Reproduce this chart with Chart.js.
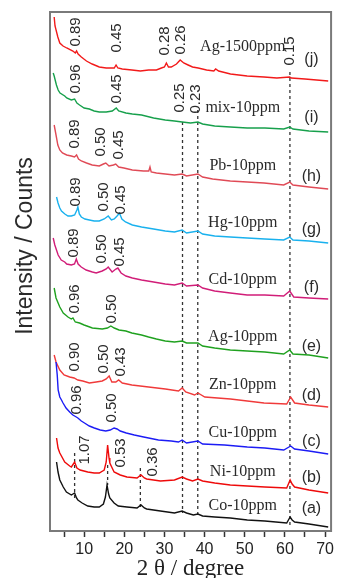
<!DOCTYPE html>
<html>
<head>
<meta charset="utf-8">
<script src="https://cdn.jsdelivr.net/npm/chart.js@4.4.1/dist/chart.umd.min.js"></script>
<style>
  html, body { margin: 0; padding: 0; background: #fff; overflow: hidden; }
  canvas { display: block; }
</style>
</head>
<body>
<canvas id="xrd" width="337" height="578"></canvas>
<script>
// XRD patterns, [2theta (deg), stacked intensity (a.u.)]
const coCurve = [[3.13,69],[3.5,59],[3.94,51],[4.8,44],[5.59,39],[6.82,36],[7.63,38],[8.1,33],[8.44,31],[9.5,28],[10.9,25],[12.5,24],[13.77,24],[14.8,27],[15.3,34],[15.7,46],[16.1,37],[16.4,33],[17.46,28],[18.5,25],[20.65,24],[23.18,23],[24.16,26],[25.0,23],[25.57,22],[29.0,20],[32.5,18],[34.41,20],[35.5,18],[37.2,16],[38.34,17],[39.5,15],[42.52,14],[46.4,13],[50.63,11],[55,10],[60.45,8],[61.3,14],[61.8,11],[62.42,9],[66,7],[70.78,4]];
const niCurve = [[3.13,93],[3.5,83],[3.94,78],[5.17,69],[6.4,65],[6.82,64],[7.63,69],[8.2,63],[9.0,61],[10.9,59],[12.5,58],[13.77,58],[15.0,61],[15.5,69],[15.85,86],[16.2,73],[16.4,68],[17.46,59],[19.0,56],[20.65,54],[23.18,53],[24.16,56],[25.0,53],[25.57,52],[29.0,50],[32.5,51],[34.41,54],[35.5,52],[37.0,50],[38.34,52],[39.5,50],[42.52,48],[46.4,46],[50.63,45],[55,44],[60.45,43],[61.3,51],[61.8,47],[62.42,44],[66,41],[70.78,38]];
const cuCurve = [[3.0,169],[3.3,156],[3.53,141],[3.94,134],[4.36,131],[4.75,128],[5.5,123],[6.4,119],[7.2,116],[8.05,114],[8.44,113],[9.3,110],[10.09,108],[11.3,105],[12.54,103],[14.0,101],[15.4,100],[16.5,101],[17.46,103],[18.2,102],[19.0,100],[20.5,98],[22.5,96],[24.83,94],[28.5,91],[31.7,90],[33.5,89],[34.41,91],[35.5,88],[38.34,90],[39.5,87],[44.98,86],[50.63,84],[55,83],[59.72,81],[61.44,85],[62.4,82],[66,80],[70.78,77]];
const znCurve = [[2.54,176],[3.0,169],[3.94,161],[5.0,156],[6.4,154],[7.5,153],[8.44,151],[9.67,150],[11.31,148],[13.0,149],[14.51,150],[15.5,152],[16.23,155],[16.9,149],[17.9,149],[18.6,151],[19.5,148],[21.88,146],[26.06,144],[30.23,142],[33.5,140],[34.41,143],[35.3,139],[37.5,136],[38.34,138],[40.06,134],[46.45,132],[54.8,128],[60.45,127],[61.44,134],[62.42,128],[66,126],[70.78,124]];
const agLowCurve = [[2.54,243],[3.0,233],[3.94,224],[4.8,218],[5.98,214],[6.8,212],[7.21,213],[7.8,209],[8.86,208],[10,206],[12.05,203],[14.51,202],[15.8,203],[16.65,205],[17.5,203],[18.69,201],[20.4,200],[21.88,198],[24.3,196],[26.06,194],[28,192],[30.2,190],[32.5,189],[34.41,190],[35.5,188],[38.34,188],[39.5,185],[42.5,183],[46.4,181],[50.6,180],[55,179],[59.7,177],[61.2,181],[62,177],[66,176],[70.78,173]];
const cdCurve = [[2.3,293],[2.7,286],[3.53,276],[4.3,271],[5.17,269],[5.66,267],[6.82,266],[7.6,267],[8.05,272],[8.5,267],[9.28,264],[10.5,261],[12.05,259],[13.0,258],[14.5,260],[15.5,262],[16.0,264],[16.97,259],[17.9,262],[18.4,263],[19.2,258],[20.4,255],[22,253],[24.3,251],[27.3,249],[30.2,247],[32.5,246],[34.41,248],[35.5,245],[38.34,246],[39.5,243],[42.5,240],[46.4,238],[50.6,236],[55,236],[59.7,235],[61.2,240],[62.2,234],[66,233],[70.78,232]];
const hgCurve = [[3.13,334],[3.5,328],[3.94,323],[4.36,320],[5.2,317],[5.98,315],[6.8,315],[7.63,316],[8.2,321],[8.44,324],[8.8,317],[9.3,314],[10.2,312],[11.3,311],[12.5,310],[13.77,310],[15.0,312],[16.0,315],[16.8,311],[17.5,312],[18.2,315],[18.8,318],[19.4,312],[20.3,309],[22,306],[24.3,304],[27.3,302],[30.2,300],[32.5,299],[34.41,301],[35.5,298],[38.34,300],[39.5,297],[42.5,295],[46.4,294],[50.6,293],[55,292],[59.7,291],[61.2,294],[62,291],[66,290],[70.78,288]];
const pbCurve = [[2.54,406],[3.0,396],[3.45,386],[3.94,381],[4.6,378],[5.66,376],[6.8,375],[7.6,374],[8.12,376],[8.6,372],[9.3,370],[10.6,368],[12.0,366],[13.77,365],[14.8,367],[15.4,368],[16.2,365],[17.3,366],[17.87,367],[18.6,364],[19.9,363],[22,361],[24.8,360],[26.1,360],[26.4,364],[26.7,359],[28,358],[30.2,357],[32.5,356],[34.41,357],[35.5,355],[38.34,357],[39.5,354],[42,352],[46.4,350],[50.6,349],[54.8,348],[59.7,346],[61.2,349],[62,346],[66,344],[70.78,342]];
const mixCurve = [[2.3,458],[2.54,455],[3.1,446],[3.53,441],[4.0,438],[5.17,435],[5.66,433],[6.8,431],[7.63,432],[8.2,428],[8.86,426],[10,423],[11.3,422],[12.5,420],[13.77,419],[15.5,419],[17.0,420],[18.0,423],[18.6,420],[20.4,418],[22,417],[24.3,416],[27.3,413],[30.2,411],[32.5,410],[34.41,409],[36.5,408],[38.34,409],[39.5,407],[42.5,405],[46.4,404],[50.6,403],[55,403],[59.7,402],[61.2,404],[62,402],[66,400],[70.78,399]];
const agHighCurve = [[2.54,514],[2.75,505],[3.45,494],[3.94,488],[4.75,485],[5.66,483],[7.2,480],[7.8,478],[8.12,480],[8.5,477],[9.3,474],[10.58,470],[12.0,467],[13.77,464],[15.5,463],[17.5,463],[17.95,466],[18.4,463],[19.5,462],[21.9,461],[24,460],[26.06,461],[28,461],[29.25,463],[30.0,464],[30.48,468],[31.0,464],[31.7,464],[33.0,467],[33.92,471],[34.8,468],[35.9,466],[37,464],[38.4,463],[40.5,461],[42.3,460],[42.76,462],[43.5,460],[46.45,457],[50.6,455],[54.8,454],[58,453],[61.19,454],[61.6,453],[65,452],[70.78,450]];

const curves = [coCurve, niCurve, cuCurve, znCurve, agLowCurve, cdCurve, hgCurve, pbCurve, mixCurve, agHighCurve];
const sampleNames = ['Co-10ppm', 'Ni-10ppm', 'Cu-10ppm', 'Zn-10ppm', 'Ag-10ppm', 'Cd-10ppm', 'Hg-10ppm', 'Pb-10ppm', 'mix-10ppm', 'Ag-1500ppm'];
const sampleTags = ['(a)', '(b)', '(c)', '(d)', '(e)', '(f)', '(g)', '(h)', '(i)', '(j)'];
const nameLevels = [25, 59, 98, 146, 194, 251, 308, 365, 423, 484];
const tagLevels = [22, 53, 89, 135, 184, 243, 301, 354, 413, 471];
const curveColors = ['#111111', '#ee0a0a', '#1c1cf5', '#f03a3a', '#1fa11f', '#d11d78', '#19b1ee', '#e04a56', '#17a04c', '#f21a1a'];

// reference lines: [2theta, top, bottom]
const dashLines = [[7.63, 78, 31], [15.85, 66, 46], [24.0, 63, 21], [34.5, 409, 18], [38.3, 421, 15], [61.25, 459, 3]];

// d-spacing labels (nm): [text, 2theta, level]
const dLabels = [
  ['0.89', 7.87, 499], ['0.45', 18.19, 493], ['0.28', 29.99, 490], ['0.26', 34.16, 491], ['0.15', 61.19, 480],
  ['0.96', 7.87, 452], ['0.45', 18.19, 442], ['0.25', 33.92, 433], ['0.23', 37.85, 432],
  ['0.89', 7.63, 397], ['0.50', 14.26, 389], ['0.45', 18.69, 386],
  ['0.89', 8.05, 339], ['0.50', 15.0, 334], ['0.45', 19.1, 331],
  ['0.89', 7.46, 288], ['0.50', 14.5, 282], ['0.45', 18.93, 279],
  ['0.96', 7.63, 232], ['0.50', 16.97, 222],
  ['0.90', 7.63, 174], ['0.50', 15.0, 172], ['0.43', 19.18, 169],
  ['0.96', 8.12, 131], ['0.50', 16.97, 123],
  ['1.07', 10.09, 81], ['0.53', 19.18, 78], ['0.36', 27.04, 69]
];

const xTicks = [5, 10, 15, 20, 25, 30, 35, 40, 45, 50, 55, 60, 65, 70];
const xTickLabels = ['', '10', '', '20', '', '30', '', '40', '', '50', '', '60', '', '70'];
const nameX = 49.5;
const tagX = 66.6;

const sans = '"Liberation Sans", Arial, sans-serif';
const serif = '"Liberation Serif", "Times New Roman", serif';

const datasets = curves.map((c, i) => ({
  data: c.map(p => ({ x: p[0], y: p[1] })),
  borderColor: curveColors[i],
  borderWidth: 1.4,
  pointRadius: 0,
  tension: 0,
  fill: false
}));
dashLines.forEach(d => {
  datasets.push({
    data: [{ x: d[0], y: d[1] }, { x: d[0], y: d[2] }],
    borderColor: '#333',
    borderWidth: 1.3,
    borderDash: [3, 3],
    pointRadius: 0,
    fill: false
  });
});

const overlay = {
  id: 'overlay',
  afterDatasetsDraw(chart) {
    const { ctx, chartArea: a, scales: { x, y } } = chart;
    ctx.save();
    ctx.strokeStyle = '#7a7a7a';
    ctx.lineWidth = 2;
    ctx.strokeRect(a.left, a.top, a.right - a.left, a.bottom - a.top);

    ctx.fillStyle = '#2a2a2a';
    ctx.textAlign = 'center';
    ctx.textBaseline = 'middle';
    ctx.font = '15px ' + sans;
    dLabels.forEach(([t, dx, dy]) => {
      ctx.save();
      ctx.translate(x.getPixelForValue(dx), y.getPixelForValue(dy));
      ctx.rotate(-Math.PI / 2);
      ctx.fillText(t, 0, 0);
      ctx.restore();
    });

    ctx.font = '16px ' + serif;
    sampleNames.forEach((n, i) => {
      ctx.fillText(n, x.getPixelForValue(nameX), y.getPixelForValue(nameLevels[i]));
    });
    ctx.font = '16px ' + sans;
    sampleTags.forEach((t, i) => {
      ctx.fillText(t, x.getPixelForValue(tagX), y.getPixelForValue(tagLevels[i]));
    });

    // y axis title
    ctx.font = '23px ' + sans;
    ctx.translate(26, 246);
    ctx.rotate(-Math.PI / 2);
    ctx.fillText('Intensity / Counts', 0, 0);
    ctx.restore();
  }
};

new Chart(document.getElementById('xrd'), {
  type: 'line',
  data: { datasets },
  plugins: [overlay],
  options: {
    responsive: false,
    animation: false,
    devicePixelRatio: 1,
    layout: { padding: { top: 12, right: 2, left: 0, bottom: 0 } },
    plugins: { legend: { display: false }, tooltip: { enabled: false } },
    scales: {
      x: {
        type: 'linear',
        min: 1.5,
        max: 71.5,
        afterBuildTicks: s => { s.ticks = xTicks.map(v => ({ value: v })); },
        afterFit: s => { s.height = 47; },
        border: { display: false },
        grid: { drawOnChartArea: false, drawTicks: true, tickLength: 6, tickWidth: 1.5, tickColor: '#333' },
        ticks: {
          autoSkip: false,
          maxRotation: 0,
          padding: 3,
          color: '#222',
          font: { family: sans, size: 16 },
          callback: (v, i) => xTickLabels[i]
        },
        title: {
          display: true,
          text: '2 θ / degree',
          color: '#222',
          font: { family: serif, size: 23, lineHeight: 1 },
          padding: { top: 0, bottom: -2 }
        }
      },
      y: {
        type: 'linear',
        min: 0,
        max: 519,
        afterFit: s => { s.width = 50; },
        border: { display: false },
        grid: { display: false },
        ticks: { display: false }
      }
    }
  }
});
</script>
</body>
</html>
